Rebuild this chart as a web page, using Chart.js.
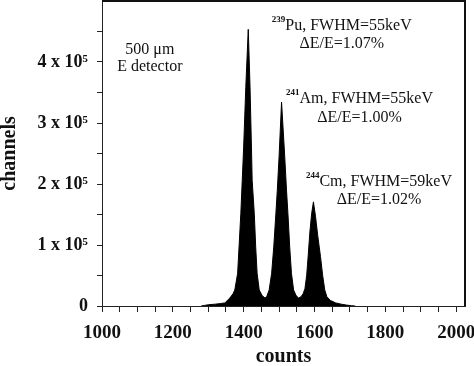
<!DOCTYPE html>
<html><head><meta charset="utf-8">
<script src="https://cdn.jsdelivr.net/npm/chart.js@4"></script>
<style>html,body{margin:0;padding:0;background:#fff}#wrap{width:474px;height:366px;position:relative}</style>
</head><body><div id="wrap"><canvas id="c"></canvas></div>
<script>
// spectrum
const counts = [1280,1290,1300,1320,1335,1347,1361,1370,1375,1383,1387,1392,1396,1400,1406,1413,1418,1422,1424,1430,1434,1438,1444,1452,1460,1465,1472,1479,1485,1491,1495,1500,1507,1516,1521,1525,1530,1535,1541,1548,1555,1562,1568,1573,1578,1582,1587,1592,1597,1603,1609,1617,1623,1629,1635,1645,1660,1675,1690,1705,1715];
const channels = [0,1000,2000,3000,4000,5000,13000,20000,26000,53000,96000,150000,204000,258000,355000,449000,355000,258000,204000,150000,96000,53000,26000,17000,13000,15000,26000,53000,96000,150000,188000,242000,331000,242000,188000,150000,96000,53000,26000,17000,13000,15000,20000,28000,50000,80000,120000,150000,169000,145000,115000,80000,50000,26000,15000,9000,5000,3000,1500,500,0];
const xTickLabels = ['1000','1200','1400','1600','1800','2000'];
const yTickLabels = ['0','1 x 10⁵','2 x 10⁵','3 x 10⁵','4 x 10⁵'];
const noteSup = ['', '', '239', '', '241', '', '244', ''];
const noteText = ['500 μm', 'E detector', 'Pu, FWHM=55keV', 'ΔE/E=1.07%', 'Am, FWHM=55keV', 'ΔE/E=1.00%', 'Cm, FWHM=59keV', 'ΔE/E=1.02%'];
const noteX = [1135, 1135, 1677, 1677, 1727, 1727, 1782, 1782];
const noteY = [416000, 388000, 455000, 426000, 337000, 306000, 201000, 173000];

const SERIF = '"Liberation Serif","Times New Roman",serif';

const extras = {
  id: 'extras',
  afterDraw(chart) {
    const {ctx, chartArea: a, scales} = chart;
    ctx.save();
    ctx.strokeStyle = '#111';
    ctx.lineWidth = 2;
    ctx.beginPath();
    ctx.moveTo(a.left, a.top);
    ctx.lineTo(a.right, a.top);
    ctx.lineTo(a.right, a.bottom);
    ctx.stroke();
    ctx.fillStyle = '#111';
    ctx.textBaseline = 'middle';
    ctx.textAlign = 'left';
    for (let i = 0; i < noteText.length; i++) {
      const cx = scales.x.getPixelForValue(noteX[i]);
      const cy = scales.y.getPixelForValue(noteY[i]);
      ctx.font = 'bold 9px ' + SERIF;
      const ws = noteSup[i] ? ctx.measureText(noteSup[i]).width : 0;
      ctx.font = '16px ' + SERIF;
      const wt = ctx.measureText(noteText[i]).width;
      let x0 = cx - (ws + wt) / 2;
      if (noteSup[i]) {
        ctx.font = 'bold 9px ' + SERIF;
        ctx.fillText(noteSup[i], x0, cy - 6);
      }
      ctx.font = '16px ' + SERIF;
      ctx.fillText(noteText[i], x0 + ws, cy);
    }
    ctx.restore();
  }
};

new Chart(document.getElementById('c'), {
  type: 'line',
  data: {
    datasets: [{
      data: counts.map((c, i) => ({x: c, y: channels[i]})),
      borderColor: '#000',
      backgroundColor: '#000',
      borderWidth: 1,
      fill: 'origin',
      pointRadius: 0,
      tension: 0
    }]
  },
  options: {
    responsive: true,
    maintainAspectRatio: false,
    animation: false,
    devicePixelRatio: 1,
    layout: {padding: {top: 1, right: 0, left: 0, bottom: 0}},
    plugins: {legend: {display: false}, tooltip: {enabled: false}},
    scales: {
      x: {
        type: 'linear',
        min: 1000, max: 2025,
        afterFit(s) { s.height = 60; s.paddingLeft = 0; s.paddingRight = 9; },
        grid: {drawOnChartArea: false, drawTicks: true, tickLength: 6, color: '#222'},
        border: {color: '#222', width: 1},
        ticks: {
          stepSize: 50, includeBounds: false, maxRotation: 0, autoSkip: false,
          color: '#111', padding: 10,
          font: {family: SERIF, size: 19, weight: 'bold'},
          callback(v) { const r = Math.round(v); return r % 200 === 0 ? xTickLabels[(r - 1000) / 200] : ''; }
        },
        title: {display: true, text: 'counts', color: '#111', padding: {top: 0, bottom: -3},
          font: {family: SERIF, size: 20, weight: 'bold'}}
      },
      y: {
        min: 0, max: 495000,
        afterFit(s) { s.width = 102; s.paddingTop = 0; s.paddingBottom = 0; },
        grid: {drawOnChartArea: false, drawTicks: true, tickLength: 5, color: '#222'},
        border: {color: '#222', width: 1},
        ticks: {
          stepSize: 50000, includeBounds: false, autoSkip: false,
          color: '#111', padding: 9,
          font: {family: SERIF, size: 18, weight: 'bold'},
          callback(v) { const k = Math.round(v / 50000); return k % 2 === 0 ? yTickLabels[k / 2] : ''; }
        },
        title: {display: true, text: 'channels', color: '#111', padding: {top: -2, bottom: 0},
          font: {family: SERIF, size: 20, weight: 'bold'}}
      }
    }
  },
  plugins: [extras]
});
</script>
</body></html>
